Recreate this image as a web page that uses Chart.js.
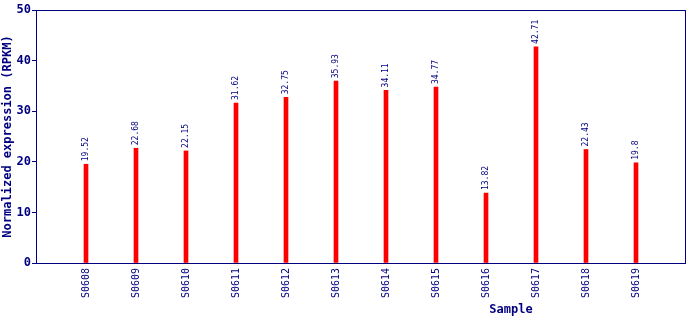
<!DOCTYPE html>
<html>
<head>
<meta charset="utf-8">
<script src="https://cdn.jsdelivr.net/npm/chart.js@4/dist/chart.umd.min.js"></script>
<style>
  html, body { margin: 0; padding: 0; background: #fff; }
  #wrap { width: 690px; height: 320px; }
</style>
</head>
<body>
<div id="wrap"><canvas id="exprChart"></canvas></div>
<script>
// Sample names (x-axis) and RPKM values (y-axis)
const samples = ['S0608', 'S0609', 'S0610', 'S0611', 'S0612', 'S0613',
                 'S0614', 'S0615', 'S0616', 'S0617', 'S0618', 'S0619'];
const rpkm = [19.52, 22.68, 22.15, 31.62, 32.75, 35.93,
              34.11, 34.77, 13.82, 42.71, 22.43, 19.8];
const yTicks = [0, 10, 20, 30, 40, 50];

const navy = '#000080';
const mono = "'DejaVu Sans Mono', 'Liberation Mono', monospace";

// blank slots at both ends so the bars sit one step in from each side
const labels = [''].concat(samples, ['']);
const values = [null].concat(rpkm, [null]);

// frame, value labels and axis titles drawn by hand
const extras = {
    id: 'extras',
    afterDatasetsDraw(chart) {
        const c = chart.ctx;
        const meta = chart.getDatasetMeta(0);
        c.save();
        c.fillStyle = navy;
        c.font = '8px ' + mono;
        c.textAlign = 'left';
        c.textBaseline = 'middle';
        meta.data.forEach((bar, i) => {
            if (values[i] == null) return;
            c.save();
            c.translate(bar.x, bar.y - 3);
            c.rotate(-Math.PI / 2);
            c.fillText(String(values[i]), 0, 0);
            c.restore();
        });
        c.restore();
    },
    afterDraw(chart) {
        const c = chart.ctx;
        const a = chart.chartArea;
        c.save();
        c.strokeStyle = navy;
        c.lineWidth = 1;
        c.strokeRect(Math.round(a.left) + 0.5, Math.round(a.top) + 0.5,
                     Math.round(a.right - a.left) - 1, Math.round(a.bottom - a.top));
        c.fillStyle = navy;
        c.font = 'bold 12px ' + mono;
        c.textAlign = 'center';
        c.textBaseline = 'middle';
        c.fillText('Sample', 511, 310);
        c.translate(8, (a.top + a.bottom) / 2);
        c.rotate(-Math.PI / 2);
        c.fillText('Normalized expression (RPKM)', 0, 0);
        c.restore();
    }
};

const ctx = document.getElementById('exprChart').getContext('2d');
const exprChart = new Chart(ctx, {
    type: 'bar',
    data: {
        labels: labels,
        datasets: [{
            data: values,
            backgroundColor: '#ff0000',
            borderWidth: 0,
            barThickness: 4
        }]
    },
    options: {
        responsive: true,
        maintainAspectRatio: false,
        animation: false,
        layout: { padding: { top: 10, right: 4, left: 0, bottom: 0 } },
        plugins: {
            legend: { display: false },
            tooltip: { enabled: false }
        },
        scales: {
            x: {
                offset: false,
                grid: { display: false, drawTicks: false },
                border: { display: false },
                ticks: {
                    color: navy,
                    font: { family: mono, size: 10 },
                    minRotation: 90,
                    maxRotation: 90,
                    autoSkip: false,
                    padding: 5
                },
                afterFit: function(scale) {
                    scale.height = 57;
                    scale.paddingLeft = 0;
                    scale.paddingRight = 0;
                }
            },
            y: {
                min: 0,
                max: 50,
                grid: { drawOnChartArea: false, color: navy, tickLength: 4 },
                border: { display: false },
                afterBuildTicks: function(scale) {
                    scale.ticks = yTicks.map(v => ({ value: v }));
                },
                ticks: {
                    color: navy,
                    font: { family: mono, size: 12, weight: 'bold' },
                    padding: 1
                },
                afterFit: function(scale) {
                    scale.width = 36;
                    scale.paddingTop = 0;
                    scale.paddingBottom = 0;
                }
            }
        }
    },
    plugins: [extras]
});
</script>
</body>
</html>
